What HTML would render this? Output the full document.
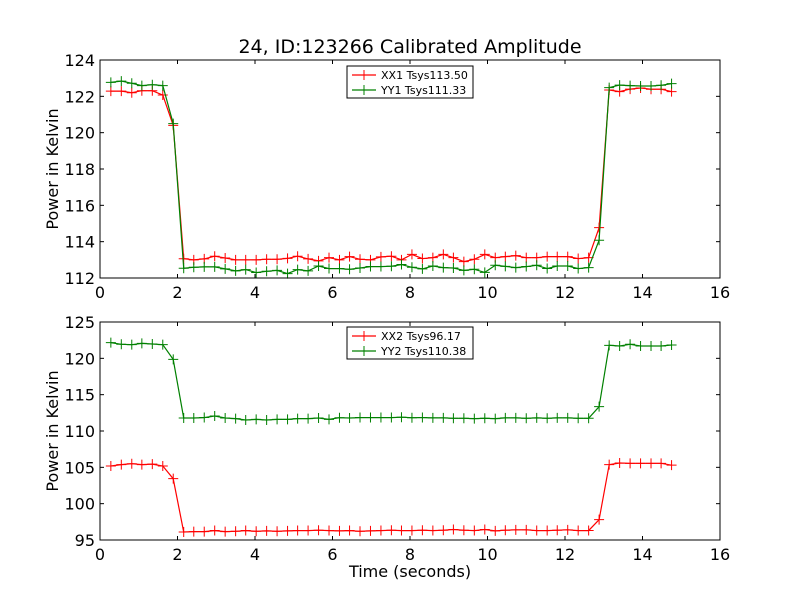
<!DOCTYPE html>
<html><head><meta charset="utf-8"><style>
body{margin:0;background:#fff;}
svg text{font-family:"DejaVu Sans","Liberation Sans",sans-serif;}
</style></head><body>
<svg id="chart" width="800" height="600" xmlns="http://www.w3.org/2000/svg">
<rect width="800" height="600" fill="#fff"/>
<text x="410" y="53" font-size="19" text-anchor="middle">24, ID:123266 Calibrated Amplitude</text>
<g id="top"></g>
<g id="bot"></g>
<text x="410" y="577" font-size="16" text-anchor="middle">Time (seconds)</text>
</svg>
<script>
const times=[0.28,0.55,0.82,1.08,1.35,1.62,1.89,2.16,2.42,2.69,2.96,3.23,3.50,3.76,4.03,4.30,4.57,4.84,5.10,5.37,5.64,5.91,6.18,6.44,6.71,6.98,7.25,7.52,7.78,8.05,8.32,8.59,8.86,9.12,9.39,9.66,9.93,10.20,10.46,10.73,11.00,11.27,11.54,11.80,12.07,12.34,12.61,12.88,13.14,13.41,13.68,13.95,14.22,14.48,14.75];
const xx1=[122.29,122.29,122.2,122.31,122.31,122.07,120.4,113.06,113.0,113.05,113.2,113.1,113.0,113.0,113.0,113.03,113.03,113.08,113.2,113.05,112.94,113.12,113.0,113.18,113.03,113.0,113.16,113.2,113.0,113.30,113.07,113.12,113.30,113.12,112.90,113.03,113.30,113.12,113.18,113.23,113.12,113.12,113.18,113.18,113.18,113.07,113.12,114.77,122.35,122.26,122.40,122.46,122.39,122.39,122.26];
const yy1=[122.77,122.84,122.72,122.59,122.64,122.59,120.5,112.54,112.59,112.61,112.61,112.5,112.39,112.46,112.3,112.37,112.42,112.24,112.46,112.39,112.66,112.52,112.52,112.48,112.55,112.63,112.63,112.65,112.74,112.59,112.50,112.66,112.57,112.55,112.42,112.48,112.31,112.70,112.64,112.57,112.63,112.70,112.52,112.66,112.66,112.52,112.57,114.08,122.48,122.62,122.59,122.57,122.57,122.61,122.70];
const xx2=[105.18,105.37,105.5,105.37,105.45,105.18,103.44,96.1,96.15,96.15,96.3,96.15,96.2,96.3,96.2,96.25,96.2,96.25,96.3,96.3,96.35,96.3,96.25,96.3,96.2,96.25,96.3,96.35,96.3,96.3,96.35,96.3,96.35,96.45,96.35,96.3,96.45,96.25,96.35,96.4,96.4,96.3,96.3,96.35,96.4,96.3,96.3,97.8,105.37,105.6,105.55,105.55,105.55,105.55,105.3];
const yy2=[122.16,121.93,121.88,122.06,121.97,121.88,119.86,111.79,111.79,111.85,112.06,111.79,111.7,111.51,111.6,111.51,111.6,111.6,111.7,111.7,111.79,111.6,111.83,111.79,111.85,111.85,111.85,111.85,111.9,111.83,111.85,111.8,111.8,111.75,111.75,111.7,111.75,111.7,111.8,111.8,111.75,111.8,111.75,111.8,111.8,111.75,111.75,113.35,121.79,121.7,121.93,121.7,121.7,121.7,121.83];
const xTicks=[0,2,4,6,8,10,12,14,16];
const topTicks=[112,114,116,118,120,122,124];
const botTicks=[95,100,105,110,115,120,125];
const topLegend=["XX1 Tsys113.50","YY1 Tsys111.33"];
const botLegend=["XX2 Tsys96.17","YY2 Tsys110.38"];
const NS="http://www.w3.org/2000/svg";
function mk(parent,tag,attrs){const e=document.createElementNS(NS,tag);for(const k in attrs)e.setAttribute(k,attrs[k]);parent.appendChild(e);return e;}
function panel(g,top,bottom,ymin,ymax,yTicks,s1,s2,leg,legY,name){
  const L=100,R=720;
  const xs=v=>L+(v-0)/(16-0)*(R-L);
  const ys=v=>bottom-(v-ymin)/(ymax-ymin)*(bottom-top);
  xTicks.forEach(t=>{
    const x=xs(t);
    const a=mk(g,'line',{x1:x,x2:x,y1:bottom,y2:bottom-4,stroke:'#000'});
    
    const b=mk(g,'line',{x1:x,x2:x,y1:top,y2:top+4,stroke:'#000'});
    
    const tx=mk(g,'text',{x:x,y:bottom+20,'font-size':16,'text-anchor':'middle'});tx.textContent=t;
    
  });
  yTicks.forEach(t=>{
    const y=ys(t);
    const a=mk(g,'line',{x1:L,x2:L+4,y1:y,y2:y,stroke:'#000'});
    
    const b=mk(g,'line',{x1:R,x2:R-4,y1:y,y2:y,stroke:'#000'});
    
    const tx=mk(g,'text',{x:L-5,y:y+6,'font-size':16,'text-anchor':'end'});tx.textContent=t;
    
  });
  const yt=mk(g,'text',{x:0,y:0,'font-size':16,'text-anchor':'middle',transform:`translate(58,${(top+bottom)/2}) rotate(-90)`});
  yt.textContent='Power in Kelvin';
  
  [[s1,'#ff0000'],[s2,'#008000']].forEach(([s,c],i)=>{
    const pts=s.map((v,j)=>xs(times[j]).toFixed(1)+','+ys(v).toFixed(1)).join(' ');
    const pl=mk(g,'polyline',{points:pts,fill:'none',stroke:c,'stroke-width':1.2});
    
    s.forEach((v,j)=>{
      const x=xs(times[j]),y=ys(v);
      const m=mk(g,'path',{d:`M${x-5},${y}H${x+5}M${x},${y-5}V${y+5}`,stroke:c,'stroke-width':1});
      
    });
  });
  const fr=mk(g,'rect',{x:L,y:top,width:R-L,height:bottom-top,fill:'none',stroke:'#000','stroke-width':1});
  
  const lg=mk(g,'g',{});
  
  mk(lg,'rect',{x:347,y:legY,width:126,height:32,fill:'#fff',stroke:'#000','stroke-width':1});
  leg.forEach((t,i)=>{
    const c=i?'#008000':'#ff0000';const y=legY+9+i*15;
    mk(lg,'line',{x1:352,x2:376,y1:y,y2:y,stroke:c,'stroke-width':1.2});
    mk(lg,'path',{d:`M359,${y}H369M364,${y-5}V${y+5}`,stroke:c});
    const tx=mk(lg,'text',{x:381,y:y+4,'font-size':11});tx.textContent=t;
    
  });
}
panel(document.getElementById('top'),60,278,112,124,topTicks,xx1,yy1,topLegend,66,'top');
panel(document.getElementById('bot'),322,540,95,125,botTicks,xx2,yy2,botLegend,327,'bottom');
</script>
</body></html>
